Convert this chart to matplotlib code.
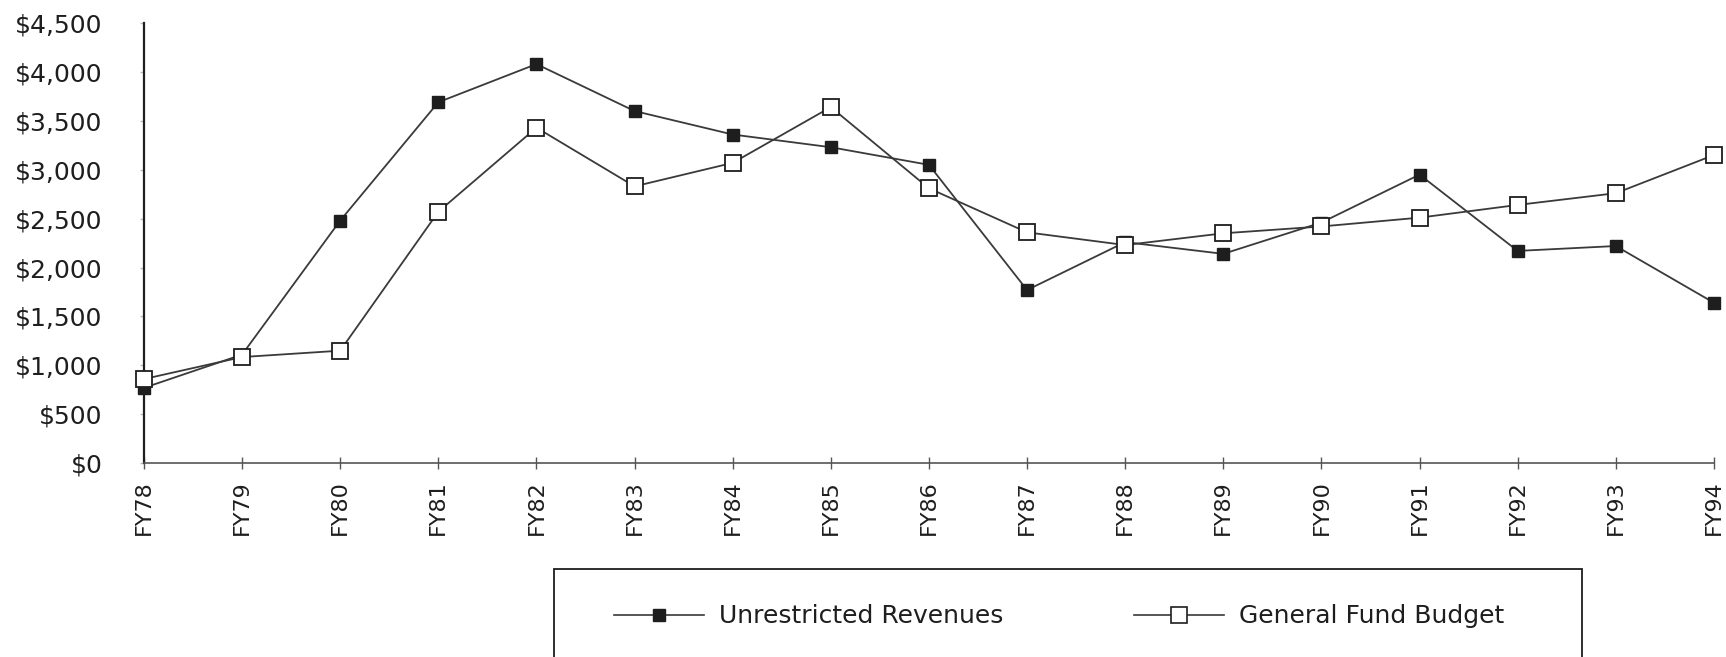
import matplotlib
matplotlib.use('Agg')
import matplotlib.pyplot as plt
from matplotlib.ticker import FuncFormatter
from matplotlib.lines import Line2D
from matplotlib.patches import Rectangle

# ── DATA ──
years = ['FY78', 'FY79', 'FY80', 'FY81', 'FY82', 'FY83', 'FY84', 'FY85', 'FY86',
         'FY87', 'FY88', 'FY89', 'FY90', 'FY91', 'FY92', 'FY93', 'FY94']
unrestricted = [770, 1110, 2480, 3690, 4080, 3600, 3360, 3230, 3050,
                1770, 2260, 2140, 2460, 2950, 2170, 2220, 1640]
general_fund = [860, 1085, 1150, 2570, 3430, 2830, 3070, 3640, 2810,
                2360, 2230, 2350, 2420, 2510, 2640, 2760, 3150]
y_ticks = [0, 500, 1000, 1500, 2000, 2500, 3000, 3500, 4000, 4500]

LINE = '#3a3a3a'
INK = '#1e1e1e'

plt.rcParams['font.family'] = ['DejaVu Sans']

fig = plt.figure(figsize=(17.26, 6.57), dpi=100)
fig.patch.set_facecolor('white')
ax = fig.add_axes([0.0834, 0.295, 0.9096, 0.67])

x = range(len(years))
ax.plot(x, unrestricted, color=LINE, lw=1.3, marker='s', markersize=8,
        markerfacecolor=INK, markeredgecolor=INK, zorder=3, clip_on=False)
ax.plot(x, general_fund, color=LINE, lw=1.3, marker='s', markersize=11,
        markerfacecolor='white', markeredgecolor=INK, markeredgewidth=1.3,
        zorder=4, clip_on=False)

ax.set_xlim(0, len(years) - 1)
ax.set_ylim(0, 4500)
ax.set_yticks(y_ticks)
ax.yaxis.set_major_formatter(FuncFormatter(lambda v, p: f'${v:,.0f}'))
ax.set_xticks(list(x))
ax.set_xticklabels(years, rotation=90, fontsize=16, color=INK)

for s in ['top', 'right']:
    ax.spines[s].set_visible(False)
ax.spines['left'].set_color(INK)
ax.spines['left'].set_linewidth(1.6)
ax.spines['bottom'].set_color('#555555')
ax.spines['bottom'].set_linewidth(1.2)

ax.tick_params(axis='x', direction='inout', length=9, width=1, color='#555555', pad=8)
ax.tick_params(axis='y', direction='out', length=3, width=1, color='#bbbbbb',
               pad=27, labelsize=18, labelcolor=INK)

# ── LEGEND ──
handles = [
    Line2D([], [], color=LINE, lw=1.2, marker='s', markersize=8,
           markerfacecolor=INK, markeredgecolor=INK),
    Line2D([], [], color=LINE, lw=1.2, marker='s', markersize=11,
           markerfacecolor='white', markeredgecolor=INK, markeredgewidth=1.2),
]
leg = fig.legend(handles, ['Unrestricted Revenues', 'General Fund Budget'],
                 loc='center left', bbox_to_anchor=(0.356, 0.062),
                 ncol=2, fontsize=18, frameon=False,
                 handlelength=3.6, handletextpad=0.6, columnspacing=5.2,
                 borderpad=0, borderaxespad=0)
for t in leg.get_texts():
    t.set_color(INK)

# legend box, bottom runs off the page as in the scan
fig.add_artist(Rectangle((0.3208, -0.1), 0.5957, 0.234, transform=fig.transFigure,
                         fill=False, edgecolor=INK, linewidth=1.3, clip_on=False))

plt.savefig('out.png', dpi=100, facecolor='white')
